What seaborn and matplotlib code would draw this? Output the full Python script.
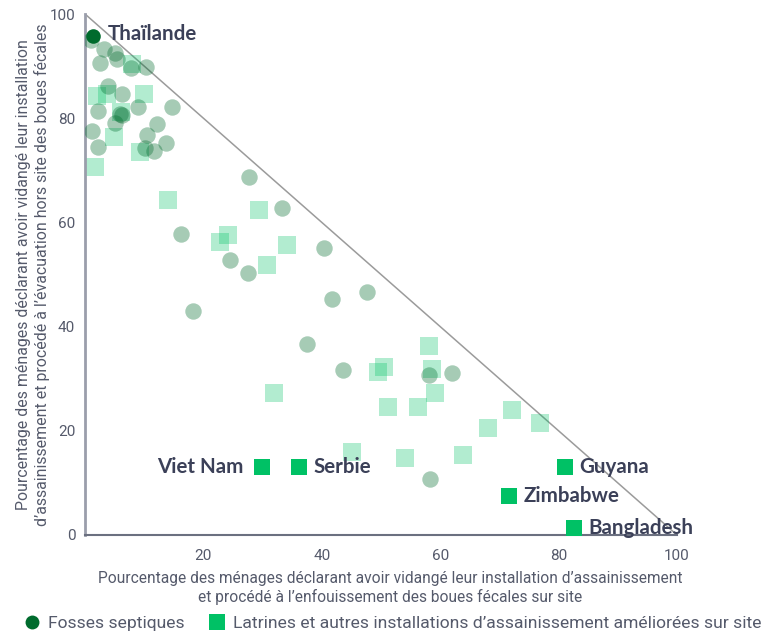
import matplotlib
matplotlib.use("Agg")
import matplotlib.pyplot as plt
from matplotlib.lines import Line2D
import seaborn as sns
import pandas as pd

# Fosses septiques : (enfouissement sur site, évacuation hors site), en %
septic_x = [1.0, 3.2, 5.1, 5.4, 2.5, 7.8, 10.3, 3.9, 6.3, 2.2, 9.0, 14.7, 5.9, 6.3,
            5.1, 1.2, 12.2, 10.5, 13.7, 2.2, 10.1, 11.7, 27.7, 33.3, 16.2, 24.5,
            27.5, 18.2, 40.4, 41.7, 47.6, 37.5, 43.6, 58.1, 62.0, 58.3]
septic_y = [95.0, 93.3, 92.5, 91.4, 90.6, 89.6, 89.8, 86.2, 84.6, 81.4, 82.1, 82.1, 80.8, 80.6,
            79.1, 77.5, 78.9, 76.8, 75.2, 74.5, 74.3, 73.7, 68.7, 62.8, 57.8, 52.8,
            50.3, 43.0, 55.1, 45.3, 46.6, 36.7, 31.7, 30.7, 31.1, 10.7]

# Latrines et autres installations améliorées sur site
latrine_x = [7.9, 2.0, 3.7, 10.0, 6.1, 4.9, 9.3, 1.7, 14.0, 29.4, 24.2, 22.8, 34.1, 30.7,
             31.9, 58.1, 50.5, 49.5, 58.6, 59.1, 51.2, 56.3, 72.1, 68.1, 76.9, 63.9,
             45.1, 54.1]
latrine_y = [90.4, 84.3, 84.6, 84.6, 81.2, 76.4, 73.5, 70.6, 64.3, 62.4, 57.6, 56.2, 55.7, 51.8,
             27.3, 36.3, 32.2, 31.3, 31.9, 27.3, 24.6, 24.6, 24.0, 20.5, 21.5, 15.4,
             15.9, 14.8]

# Pays mis en évidence
hl_septic_names = ["Thaïlande"]
hl_septic_x = [1.35]
hl_septic_y = [95.8]

hl_latrine_names = ["Viet Nam", "Serbie", "Guyana", "Zimbabwe", "Bangladesh"]
hl_latrine_x = [29.9, 36.1, 81.1, 71.6, 82.6]
hl_latrine_y = [13.1, 13.1, 13.1, 7.5, 1.3]
hl_latrine_side = ["left", "right", "right", "right", "right"]

ticks = [0, 20, 40, 60, 80, 100]
xtick_labels = ["", "20", "40", "60", "80", "100"]
ytick_labels = ["0", "20", "40", "60", "80", "100"]
diag_x = [0, 100]
diag_y = [100, 0]

legend_labels = ["Fosses septiques",
                 "Latrines et autres installations d’assainissement améliorées sur site"]

DARK_GREEN = "#006b2d"
BRIGHT_GREEN = "#00c165"
TEXT_DARK = "#3b4058"
TEXT_GRAY = "#555a6b"

sns.set_theme(style="white")
plt.rcParams["font.family"] = ["Roboto", "DejaVu Sans"]

fig = plt.figure(figsize=(7.72, 6.35), dpi=100)
ax = fig.add_axes([85 / 772, 100 / 635, 592 / 772, 521 / 635])

ax.plot(diag_x, diag_y, color="#9b9b9b", lw=1.1, zorder=1)

df_lat = pd.DataFrame({"x": latrine_x, "y": latrine_y})
df_sep = pd.DataFrame({"x": septic_x, "y": septic_y})
sns.scatterplot(data=df_lat, x="x", y="y", marker="s", s=150, color=BRIGHT_GREEN,
                alpha=0.3, linewidth=0, ax=ax, zorder=2, legend=False)
sns.scatterplot(data=df_sep, x="x", y="y", marker="o", s=140, color=DARK_GREEN,
                alpha=0.35, linewidth=0, ax=ax, zorder=3, legend=False)

df_hs = pd.DataFrame({"x": hl_septic_x, "y": hl_septic_y, "name": hl_septic_names})
df_hl = pd.DataFrame({"x": hl_latrine_x, "y": hl_latrine_y, "name": hl_latrine_names})
sns.scatterplot(data=df_hs, x="x", y="y", marker="o", s=110, color=DARK_GREEN,
                alpha=1, linewidth=0, ax=ax, zorder=5, legend=False, clip_on=False)
sns.scatterplot(data=df_hl, x="x", y="y", marker="s", s=140, color=BRIGHT_GREEN,
                alpha=1, linewidth=0, ax=ax, zorder=5, legend=False, clip_on=False)

label_font = dict(family=["Lato", "DejaVu Sans"], weight="bold", size=14.8, color=TEXT_DARK)
for name, x, y in zip(hl_septic_names, hl_septic_x, hl_septic_y):
    ax.annotate(name, (x, y), xytext=(10.5, 1.5), textcoords="offset points",
                ha="left", va="center", annotation_clip=False, **label_font)
for name, x, y, side in zip(hl_latrine_names, hl_latrine_x, hl_latrine_y, hl_latrine_side):
    dx = 10.5 if side == "right" else -13.5
    ax.annotate(name, (x, y), xytext=(dx, 0), textcoords="offset points",
                ha="left" if side == "right" else "right", va="center",
                annotation_clip=False, **label_font)

ax.set_xlim(0, 100)
ax.set_ylim(0, 100)
ax.set_xticks(ticks)
ax.set_xticklabels(xtick_labels)
ax.set_yticks(ticks)
ax.set_yticklabels(ytick_labels)
ax.tick_params(axis="both", direction="in", length=5, width=2, color="#3d4257",
               labelsize=11, labelcolor=TEXT_GRAY)
ax.tick_params(axis="x", pad=10)
ax.tick_params(axis="y", pad=7)
for side in ["top", "right"]:
    ax.spines[side].set_visible(False)
ax.spines["left"].set_color("#9a9eab")
ax.spines["left"].set_linewidth(2)
ax.spines["bottom"].set_color("#6b7080")
ax.spines["bottom"].set_linewidth(1.5)

ax.set_xlabel("Pourcentage des ménages déclarant avoir vidangé leur installation d’assainissement\n"
              "et procédé à l’enfouissement des boues fécales sur site",
              fontsize=11.2, color=TEXT_GRAY, labelpad=6, linespacing=1.2)
ax.xaxis.set_label_coords(0.515, -0.07)
ax.xaxis.label.set_va("top")
ax.set_ylabel("Pourcentage des ménages déclarant avoir vidangé leur installation\n"
              "d’assainissement et procédé à l’évacuation hors site des boues fécales",
              fontsize=11.4, color=TEXT_GRAY, labelpad=0, linespacing=1.2)

handles = [
    Line2D([], [], marker="o", color="none", markerfacecolor=DARK_GREEN,
           markeredgewidth=0, markersize=10),
    Line2D([], [], marker="s", color="none", markerfacecolor=BRIGHT_GREEN,
           markeredgewidth=0, markersize=11),
]
fig.legend(handles, legend_labels,
           loc="lower left", bbox_to_anchor=(0.012, -0.018), ncol=2, frameon=False,
           fontsize=12.6, labelcolor=TEXT_GRAY, handlelength=0.8, handletextpad=0.5,
           columnspacing=1.45)

fig.savefig("out.png", dpi=100)
